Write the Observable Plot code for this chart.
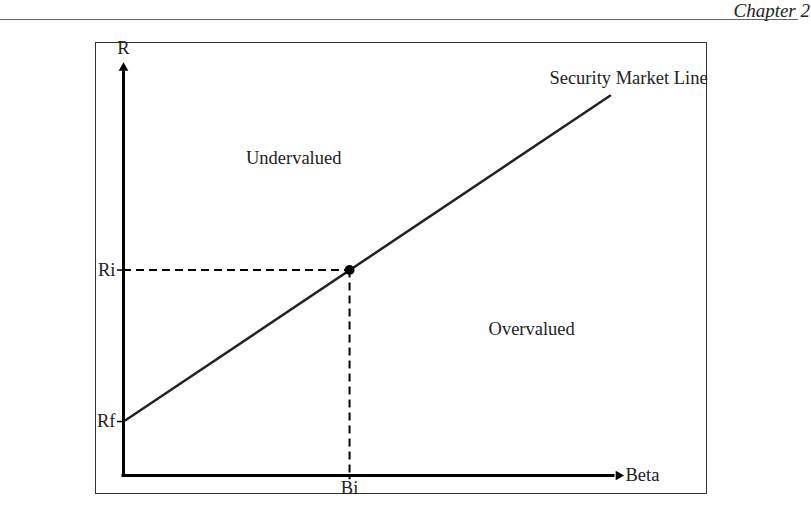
<!DOCTYPE html>
<html>
<head>
<meta charset="utf-8">
<script src="https://cdn.jsdelivr.net/npm/d3@7"></script>
<script src="https://cdn.jsdelivr.net/npm/@observablehq/plot@0.6"></script>
<style>
  html, body { margin: 0; padding: 0; background: #fff; }
  #header { position: relative; width: 811px; height: 22px; font-family: "Liberation Serif", serif; }
  #header .t { position: absolute; right: 1px; top: 1px; line-height: 1; font-style: italic; font-size: 19px; color: #222; }
  #header .rule { position: absolute; left: 0; top: 19px; width: 798px; height: 0; border-top: 1px solid #666; }
</style>
</head>
<body>
<div id="header"><span class="t">Chapter 2</span><div class="rule"></div></div>
<div id="chart"></div>
<script>
// Tick values and labels
const rTicks = [1.3, 4.95];
const rLabels = ["Rf", "Ri"];
const betaTicks = [4.53];
const betaLabels = ["Bi"];

// Security Market Line end points (beta, expected return)
const smlBeta = [0.04, 9.75];
const smlR = [1.33, 9.15];

// Highlighted asset
const assetBeta = [4.53];
const assetR = [4.95];

// Region labels
const regionNames = ["Undervalued", "Overvalued", "Security Market Line"];
const regionBeta = [3.41, 8.18, 10.12];
const regionR = [7.66, 3.54, 9.57];

const sml = smlBeta.map((b, i) => ({beta: b, r: smlR[i]}));
const regions = regionNames.map((n, i) => ({name: n, beta: regionBeta[i], r: regionR[i]}));
const asset = assetBeta.map((b, i) => ({beta: b, r: assetR[i]}));

const font = "Liberation Serif, Times New Roman, serif";
const fs = 18.5;

const chart = Plot.plot({
  width: 811,
  height: 490,
  marginLeft: 95,
  marginRight: 105,
  marginTop: 20,
  marginBottom: 19,
  style: {fontFamily: font, fontSize: fs + "px", color: "#222", background: "#fff"},
  x: {domain: [0, 10], range: [123, 622]},
  y: {domain: [0, 10], range: [453, 38]},
  marks: [
    Plot.frame({stroke: "#333", strokeWidth: 1}),
    // axes lines
    Plot.ruleX([0], {y1: -0.05, y2: 9.75, stroke: "#000", strokeWidth: 3}),
    Plot.ruleY([0], {x1: -0.03, x2: 9.85, stroke: "#000", strokeWidth: 3}),
    Plot.dot([{x: 0, y: 9.82}], {x: "x", y: "y", symbol: "triangle", r: 3.6, fill: "#000", stroke: null}),
    Plot.dot([{x: 9.92, y: 0}], {x: "x", y: "y", symbol: "triangle", r: 3.6, rotate: 90, fill: "#000", stroke: null}),
    // axis tick labels
    Plot.axisY(rTicks, {
      tickFormat: d => rLabels[rTicks.indexOf(d)],
      tickSize: 6, tickPadding: 2, dx: 28, label: null,
      fontSize: fs, stroke: "#000", strokeWidth: 1.5, fill: "#222"
    }),
    Plot.axisX(betaTicks, {
      tickFormat: d => betaLabels[betaTicks.indexOf(d)],
      tickSize: 4, tickPadding: 1, dy: -18, label: null,
      fontSize: fs, stroke: "#000", strokeWidth: 1.5, fill: "#222"
    }),
    Plot.text([{x: 0, y: 10.3, t: "R"}], {x: "x", y: "y", text: "t", fontSize: fs, fill: "#222"}),
    Plot.text([{x: 10.06, y: 0, t: "Beta"}], {x: "x", y: "y", text: "t", textAnchor: "start", fontSize: fs, fill: "#222"}),
    // dashed guides
    Plot.ruleY(asset, {y: "r", x1: 0, x2: "beta", stroke: "#000", strokeWidth: 2, strokeDasharray: "8,5"}),
    Plot.ruleX(asset, {x: "beta", y1: "r", y2: -0.1, stroke: "#000", strokeWidth: 2, strokeDasharray: "8,5"}),
    // SML
    Plot.line(sml, {x: "beta", y: "r", stroke: "#222", strokeWidth: 2.5}),
    Plot.dot(asset, {x: "beta", y: "r", r: 5, fill: "#000", stroke: null}),
    // region labels
    Plot.text(regions, {x: "beta", y: "r", text: "name", fontSize: fs, fill: "#222"})
  ]
});
document.getElementById("chart").appendChild(chart);
</script>
</body>
</html>
